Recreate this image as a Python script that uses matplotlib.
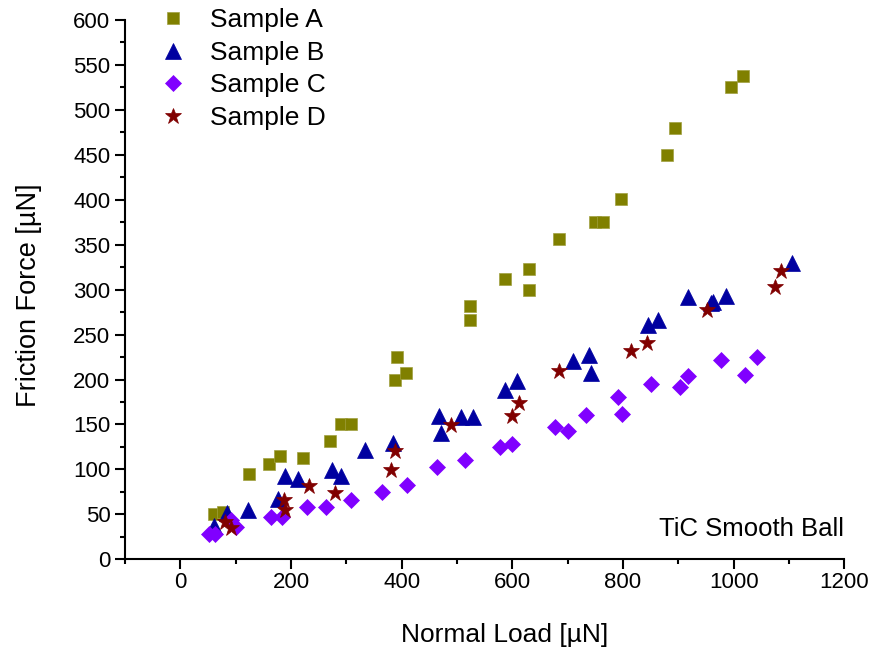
import numpy as np
import matplotlib
matplotlib.use("Agg")
import matplotlib.pyplot as plt
from matplotlib.ticker import MultipleLocator

plt.rcParams['font.family'] = ['Liberation Sans', 'DejaVu Sans']

# Sample A (squares)
load_a = [61, 77, 125, 160, 180, 221, 270, 290, 308, 388, 392, 407, 523, 523,
          586, 631, 631, 684, 750, 763, 796, 879, 894, 996, 1017]
force_a = [50, 53, 95, 106, 115, 113, 132, 150, 150, 200, 225, 207, 282, 266,
           312, 323, 300, 356, 375, 375, 401, 450, 480, 525, 538]

# Sample B (triangles)
load_b = [61, 85, 122, 176, 190, 213, 275, 290, 333, 385, 467, 471, 508, 529,
          587, 609, 710, 739, 743, 846, 863, 917, 959, 963, 987, 1105]
force_b = [37, 52, 55, 67, 93, 89, 99, 93, 122, 129, 159, 141, 158, 158,
           188, 198, 221, 227, 207, 261, 266, 292, 285, 286, 293, 330]

# Sample C (diamonds)
load_c = [52, 62, 92, 100, 164, 183, 229, 264, 309, 365, 410, 464, 514, 577,
          600, 678, 701, 733, 791, 799, 850, 903, 918, 977, 1021, 1042]
force_c = [28, 28, 44, 36, 47, 47, 58, 58, 66, 75, 83, 103, 110, 125,
           128, 147, 143, 161, 181, 162, 195, 192, 204, 222, 205, 225]

# Sample D (stars)
load_d = [80, 92, 187, 189, 232, 280, 380, 388, 489, 599, 612, 684, 814, 843,
          952, 1074, 1086]
force_d = [41, 35, 66, 55, 81, 74, 99, 120, 149, 159, 174, 209, 232, 241,
           277, 303, 321]

fig = plt.figure(figsize=(8.7, 6.52), dpi=100)
ax = fig.add_axes([125 / 870, 1 - 559.3 / 652, (844.3 - 125) / 870, (559.3 - 20) / 652])

ax.plot(load_a, force_a, ls='none', marker='s', ms=8.3, color='#808000',
        mec='#a0a040', mew=0.5, label='Sample A')
ax.plot(load_b, force_b, ls='none', marker='^', ms=11, color='#0000a0',
        mec='#0000a0', mew=0.5, label='Sample B')
ax.plot(load_c, force_c, ls='none', marker='D', ms=8.2, color='#8000ff',
        mec='#8000ff', mew=0.5, label='Sample C')
ax.plot(load_d, force_d, ls='none', marker='*', ms=12, color='#800000',
        mec='#800000', mew=0.5, label='Sample D')

ax.set_xlim(-100, 1200)
ax.set_ylim(0, 600)
ax.xaxis.set_major_locator(MultipleLocator(200))
ax.xaxis.set_minor_locator(MultipleLocator(100))
ax.yaxis.set_major_locator(MultipleLocator(50))
ax.yaxis.set_minor_locator(MultipleLocator(25))

for side in ['top', 'right']:
    ax.spines[side].set_visible(False)
for side in ['left', 'bottom']:
    ax.spines[side].set_linewidth(1.5)

ax.tick_params(which='major', direction='out', length=7, width=1.5, labelsize=16)
ax.tick_params(which='minor', direction='out', length=3.5, width=1.5)
ax.tick_params(axis='x', pad=2)

ax.set_xlabel('Normal Load [µN]', fontsize=19)
ax.set_ylabel('Friction Force [µN]', fontsize=19.5)
ax.xaxis.set_label_coords(0.528, -0.118)
ax.yaxis.set_label_coords(-0.115, 0.49)

ax.text(0.9995, 0.043, 'TiC Smooth Ball', transform=ax.transAxes, ha='right',
        va='baseline', fontsize=18.5)

ax.legend(loc='upper left', bbox_to_anchor=(0.03, 1.041), frameon=False,
          fontsize=19, handletextpad=0.8, labelspacing=0.32,
          handlelength=1.2, borderaxespad=0)

fig.savefig('out.png', dpi=100)
